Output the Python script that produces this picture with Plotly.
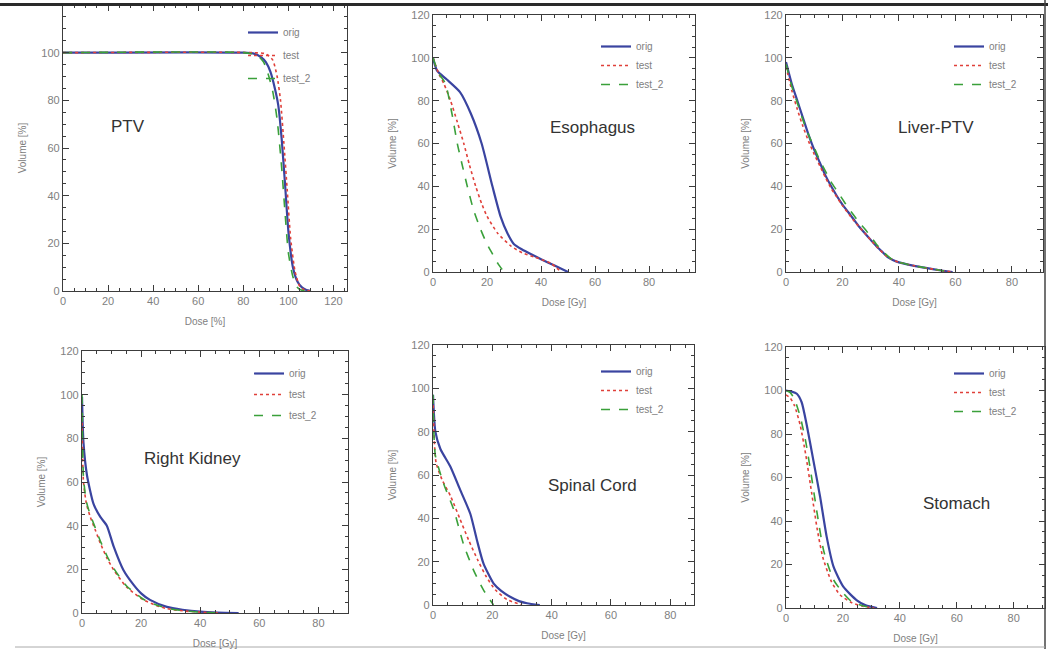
import plotly.graph_objects as go

W, H = 1048, 649

# ---------------- data ----------------
organs = ["PTV", "Esophagus", "Liver-PTV", "Right Kidney", "Spinal Cord", "Stomach"]
x_titles = ["Dose [%]", "Dose [Gy]", "Dose [Gy]", "Dose [Gy]", "Dose [Gy]", "Dose [Gy]"]
x_max = [126, 97, 91, 90, 88, 91]
series_names = ["orig", "test", "test_2"]

# PTV
ptv_orig_x = [0, 80, 85, 88, 90, 92, 94, 95.5, 97, 98.5, 100, 102, 104, 106, 108, 110]
ptv_orig_y = [100, 100, 99.5, 98, 96, 92, 85, 78, 64, 45, 25, 10, 4, 1.5, 0.4, 0]
ptv_test_x = [0, 85, 90, 93, 95, 96.5, 98, 99.5, 101, 103, 105, 107, 110]
ptv_test_y = [100, 100, 99.5, 97, 90, 80, 62, 42, 22, 8, 2, 0.5, 0]
ptv_test2_x = [0, 80, 86, 89, 91, 93, 95, 97, 98.5, 100, 102, 104, 106, 109]
ptv_test2_y = [100, 100, 99, 96, 91, 84, 72, 52, 33, 16, 6, 1.5, 0.3, 0]

# Esophagus
eso_orig_x = [0, 1.5, 5, 10, 14, 18, 22, 25, 27.6, 30, 33, 36, 40, 45, 50]
eso_orig_y = [100, 94, 90, 84, 74, 60, 40, 26, 18, 13, 10.5, 8.5, 6, 3, 0]
eso_test_x = [0, 2, 4, 6.5, 9, 11.4, 13.5, 15.8, 18, 20, 24, 29, 33, 37.5, 43.7, 47.5]
eso_test_y = [100, 93, 88, 80, 70, 60, 50, 40, 32, 26, 18, 12, 9, 7, 4, 0]
eso_test2_x = [0, 2, 4.6, 7, 9, 11, 12.7, 15, 17.6, 20, 22, 24, 26.3]
eso_test2_y = [100, 93, 88, 74, 60, 49, 40, 29, 20, 13, 8.5, 4, 0]

# Liver-PTV
liv_orig_x = [0, 2, 4, 6, 8, 10, 12, 14, 16, 18, 20, 22, 24, 26, 28, 30, 32, 34, 36, 38, 40, 45, 50, 55, 59]
liv_orig_y = [98, 88, 80, 72, 64, 57, 51, 45, 40, 35.5, 31.5, 28, 24.5, 21, 18, 15, 12, 9.5, 7, 5.5, 4.5, 3, 1.8, 0.7, 0]
liv_test_x = [0, 2, 4, 6, 8, 10, 12, 14, 16, 18, 20, 24, 28, 32, 36, 40, 45, 50, 55, 59]
liv_test_y = [96, 85, 76, 68, 61, 55, 49.5, 44, 39, 35, 31, 24, 18, 12, 7, 4.5, 3, 1.8, 0.7, 0]
liv_test2_x = [0, 2, 4, 6, 8, 10, 12, 14, 16, 18, 20, 22, 24, 26, 28, 30, 32, 34, 36, 38, 40, 45, 50, 55, 59]
liv_test2_y = [97, 87, 79, 71, 64, 58, 52, 47, 42, 38, 34, 30, 26.5, 23, 20, 16.5, 13, 10, 7.5, 5.5, 4.5, 3, 1.8, 0.7, 0]

# Right Kidney
kid_orig_x = [0, 0.5, 1.7, 3.9, 6.2, 8.4, 10.7, 14, 17.4, 20, 23, 28.7, 34, 40, 46, 53]
kid_orig_y = [99, 78, 63, 50, 44, 40, 30.5, 19.7, 13, 9, 6, 2.8, 1.5, 0.6, 0.2, 0]
kid_test_x = [0, 0.5, 1.5, 2.8, 4.5, 6.2, 8.5, 10.7, 15, 20.8, 25, 28.7, 34, 40, 46]
kid_test_y = [90, 60, 50, 44, 38, 32, 25, 19.8, 12, 6, 3.5, 2, 1, 0.4, 0]
kid_test2_x = [0, 0.5, 1.5, 2.8, 4.5, 6.2, 8.5, 10.7, 15, 20.8, 25, 28.7, 34, 40, 46]
kid_test2_y = [100, 62, 51, 45, 39, 33, 26, 20.5, 12.5, 6.3, 3.8, 2.2, 1.1, 0.4, 0]

# Spinal Cord
spc_orig_x = [0, 0.8, 2.5, 5.8, 9.2, 12.6, 14.8, 17, 20.4, 23, 26, 29, 31.7, 36]
spc_orig_y = [97, 80, 72, 64, 53, 42, 30, 19.2, 10, 6.5, 3.8, 1.8, 0.8, 0]
spc_test_x = [0, 1, 3, 6, 9, 12, 15, 18, 21, 25, 30]
spc_test_y = [95, 66, 58, 50, 40, 30, 21, 13, 7, 2.5, 0]
spc_test2_x = [0, 0.8, 3.6, 7, 10.3, 13.7, 17, 20.4]
spc_test2_y = [97, 69, 56, 44, 28, 16, 7, 0]

# Stomach
sto_orig_x = [0, 2, 3.8, 5.5, 7.3, 9.6, 12, 14.3, 16.7, 20.2, 24.9, 28, 32]
sto_orig_y = [100, 99.5, 98.5, 94.6, 84, 68, 51, 32.7, 19, 9.7, 3.5, 1.2, 0]
sto_test_x = [0, 1.5, 3, 5, 7, 9, 11, 13, 16, 19, 23, 27, 31]
sto_test_y = [98, 96.5, 93, 84, 70, 53, 36, 23, 12, 6, 2.5, 0.8, 0]
sto_test2_x = [0, 1.5, 3, 5, 7, 9, 11, 13.3, 16.7, 20, 23, 27, 31]
sto_test2_y = [100, 99, 96, 88, 76, 60, 43, 26, 13, 7, 3, 1, 0]

curves = [
    [(ptv_orig_x, ptv_orig_y), (ptv_test_x, ptv_test_y), (ptv_test2_x, ptv_test2_y)],
    [(eso_orig_x, eso_orig_y), (eso_test_x, eso_test_y), (eso_test2_x, eso_test2_y)],
    [(liv_orig_x, liv_orig_y), (liv_test_x, liv_test_y), (liv_test2_x, liv_test2_y)],
    [(kid_orig_x, kid_orig_y), (kid_test_x, kid_test_y), (kid_test2_x, kid_test2_y)],
    [(spc_orig_x, spc_orig_y), (spc_test_x, spc_test_y), (spc_test2_x, spc_test2_y)],
    [(sto_orig_x, sto_orig_y), (sto_test_x, sto_test_y), (sto_test2_x, sto_test2_y)],
]

# ---------------- layout geometry (pixels) ----------------
# (left, right, top, bottom) of each plot frame
frames = [
    (63, 347, 5, 291),
    (433, 695, 15, 272),
    (786, 1043, 15, 272),
    (82, 348, 351, 613),
    (433, 694, 345, 605),
    (786, 1045, 347, 608),
]
# legend anchor (left, top) and extra row gap in pixels
legend_pos = [(243, 18), (596, 32), (949, 32), (249, 359), (596, 357), (949, 359)]
legend_gap = [4, 0, 0, 2, 0, 0]
# organ label centre in pixels
label_pos = [(128, 127), (592, 128), (936, 128), (192, 458), (592, 485), (956, 503)]

line_styles = [
    dict(color="#3a44a0", width=2.2, dash="solid"),
    dict(color="#e0403a", width=1.6, dash="dot"),
    dict(color="#3aa03a", width=1.6, dash="dash"),
]

axis_color = "#3c3c3c"
text_color = "#808080"

fig = go.Figure()
layout = dict(
    width=W, height=H,
    margin=dict(l=0, r=0, t=0, b=0, autoexpand=False),
    paper_bgcolor="white", plot_bgcolor="white",
    font=dict(family="Liberation Sans, Arial, sans-serif", size=10, color=text_color),
    annotations=[], shapes=[],
)

for i, organ in enumerate(organs):
    n = i + 1
    xa = "xaxis" if n == 1 else f"xaxis{n}"
    ya = "yaxis" if n == 1 else f"yaxis{n}"
    xr = "x" if n == 1 else f"x{n}"
    yr = "y" if n == 1 else f"y{n}"
    lg = "legend" if n == 1 else f"legend{n}"
    l, r, t, b = frames[i]
    common = dict(
        showline=True, linecolor=axis_color, linewidth=1.3, mirror="allticks",
        ticks="inside", ticklen=6, tickcolor=axis_color, tickwidth=1,
        showgrid=False, zeroline=False, fixedrange=True, automargin=False,
        tickfont=dict(size=11, color=text_color),
        minor=dict(ticks="inside", ticklen=3, tickcolor=axis_color, dtick=5, showgrid=False),
    )
    layout[xa] = dict(
        common, domain=[l / W, r / W], anchor=yr, range=[0, x_max[i]], dtick=20, tick0=0,
        title=dict(text=x_titles[i], font=dict(size=10, color=text_color), standoff=11),
    )
    layout[ya] = dict(
        common, domain=[1 - b / H, 1 - t / H], anchor=xr, range=[0, 120], dtick=20, tick0=0,
        title=dict(text="Volume [%]", font=dict(size=10, color=text_color), standoff=12),
    )
    for j, name in enumerate(series_names):
        xs, ys = curves[i][j]
        fig.add_trace(go.Scatter(
            x=xs, y=ys, mode="lines", name=name,
            line=dict(line_styles[j], shape="spline", smoothing=0.6),
            xaxis=xr, yaxis=yr, legend=lg, legendgroup=f"{organ}-{name}",
            showlegend=True, hoverinfo="skip",
        ))
    lx, ly = legend_pos[i]
    layout[lg] = dict(
        x=lx / W, y=1 - ly / H, xanchor="left", yanchor="top",
        bgcolor="rgba(0,0,0,0)", borderwidth=0,
        font=dict(size=10, color=text_color), itemwidth=30, tracegroupgap=legend_gap[i],
    )
    cx, cy = label_pos[i]
    layout["annotations"].append(dict(
        text=organ, x=cx / W, y=1 - cy / H, xref="paper", yref="paper",
        showarrow=False, xanchor="center", yanchor="middle",
        font=dict(size=17, color="#333333", family="Liberation Sans, Arial, sans-serif"),
    ))

# page decoration lines (scan borders)
layout["shapes"] = [
    dict(type="line", xref="paper", yref="paper", x0=0, x1=1, y0=1 - 4.5 / H, y1=1 - 4.5 / H,
         line=dict(color="#2a2a2a", width=3)),
    dict(type="line", xref="paper", yref="paper", x0=1045 / W, x1=1045 / W, y0=0, y1=1,
         line=dict(color="#444444", width=1.5)),
    dict(type="line", xref="paper", yref="paper", x0=15 / W, x1=1045 / W, y0=1 - 647 / H, y1=1 - 647 / H,
         line=dict(color="#aaaaaa", width=1)),
]

fig.update_layout(**layout)
fig.write_html(
    "out.html",
    config={"displayModeBar": False},
    post_script="document.body.style.margin='0';document.body.style.overflow='hidden';",
)
